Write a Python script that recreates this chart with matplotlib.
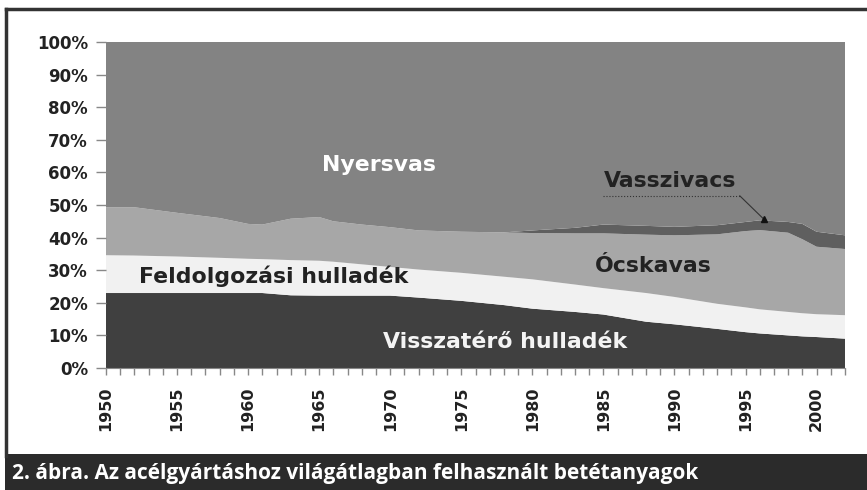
import matplotlib
matplotlib.use('Agg')
import matplotlib.pyplot as plt
import numpy as np

# years (irregular steps where the curves bend)
years = [1950, 1952, 1955, 1958, 1960, 1961, 1963, 1965, 1966, 1968, 1970, 1972,
         1975, 1978, 1980, 1983, 1985, 1988, 1990, 1993, 1995, 1996, 1998, 1999,
         2000, 2002]

# shares in percent, bottom to top
visszatero = [23.0, 23.0, 23.0, 23.0, 23.0, 23.0, 22.3, 22.2, 22.2, 22.2, 22.2, 21.6,
              20.6, 19.3, 18.2, 17.2, 16.4, 14.2, 13.4, 12.0, 11.0, 10.6, 10.0, 9.7,
              9.5, 9.0]
feldolgozasi = [11.6, 11.5, 11.2, 10.8, 10.5, 10.4, 10.8, 10.7, 10.4, 9.6, 8.8, 8.6,
                8.6, 8.7, 9.0, 8.4, 8.1, 8.8, 8.4, 7.7, 7.6, 7.4, 7.2, 7.1,
                7.0, 7.2]
ocskavas = [14.7, 14.8, 13.4, 12.2, 10.7, 10.6, 12.7, 13.4, 12.4, 12.2, 12.2, 12.0,
            12.6, 13.6, 14.2, 15.7, 16.8, 17.9, 18.9, 21.3, 23.4, 24.3, 24.3, 22.7,
            20.7, 20.3]
vasszivacs = [0, 0, 0, 0, 0, 0, 0, 0, 0, 0, 0, 0,
              0, 0, 0.8, 1.7, 2.7, 2.7, 2.6, 2.8, 2.8, 3.0, 3.3, 4.7,
              4.6, 4.2]

v = np.array(visszatero)
f = np.array(feldolgozasi)
o = np.array(ocskavas)
s = np.array(vasszivacs)
nyersvas = 100 - v - f - o - s

colors = ['#404040', '#f1f1f1', '#a7a7a7', '#5f5f5f', '#838383']

fig = plt.figure(figsize=(8.67, 4.90), dpi=100)
ax = fig.add_axes([106/867, 1-368/490, (845-106)/867, (368-42)/490])
ax.stackplot(years, v, f, o, s, nyersvas, colors=colors, linewidth=0)

ax.set_xlim(1950, 2002)
ax.set_ylim(0, 100)
ax.set_yticks(np.arange(0, 101, 10))
ax.set_yticklabels(['%d%%' % t for t in range(0, 101, 10)],
                   fontfamily='DejaVu Sans', fontweight='bold', fontsize=12,
                   color='#222222')
ax.set_xticks(np.arange(1950, 2001, 5))
ax.set_xticks(np.arange(1950, 2003, 1), minor=True)
ax.set_xticklabels([str(y) for y in range(1950, 2001, 5)], rotation=90,
                   fontfamily='DejaVu Sans', fontweight='bold', fontsize=11.5,
                   color='#222222')
ax.tick_params(axis='y', length=7, width=1, color='#888888', pad=6)
ax.tick_params(axis='x', which='both', length=5, width=1, color='#888888', pad=8)
for sp in ['top', 'right', 'left']:
    ax.spines[sp].set_visible(False)
ax.spines['bottom'].set_color('#888888')

lab = dict(fontfamily='DejaVu Sans', fontweight='bold', fontsize=15.8,
           ha='center', va='center')
ax.text(1969.2, 62.3, 'Nyersvas', color='white', **lab)
ax.text(1989.7, 57.3, 'Vasszivacs', color='#222222', **lab)
ax.text(1988.5, 31.2, 'Ócskavas', color='#222222', **lab)
ax.text(1961.8, 28.2, 'Feldolgozási hulladék', color='#222222', **lab)
ax.text(1978.1, 7.9, 'Visszatérő hulladék', color='#f4f4f4', **lab)
# leader for Vasszivacs
ax.plot([1985.0, 1994.6], [52.8, 52.8], color='#333333', lw=0.8, ls=':')
ax.plot([1994.6, 1996.3], [52.8, 45.6], color='#333333', lw=0.8)
ax.plot([1996.3], [45.6], marker='^', ms=5, color='#111111')

# outer frame and caption bar
fig.add_artist(plt.Line2D([6/867, 6/867], [1-456/490, 1-9/490], color='#333333', lw=2.5))
fig.add_artist(plt.Line2D([6/867, 1], [1-9/490, 1-9/490], color='#333333', lw=2.5))
fig.add_artist(plt.Rectangle((5/867, 0), 1, 36/490, color='#2b2b2b', lw=0))
fig.text(12/867, 17/490, '2. ábra. Az acélgyártáshoz világátlagban felhasznált betétanyagok',
         color='white', fontfamily='Open Sans', fontweight='bold', fontsize=15,
         va='center', ha='left')

fig.savefig('out.png', dpi=100)
